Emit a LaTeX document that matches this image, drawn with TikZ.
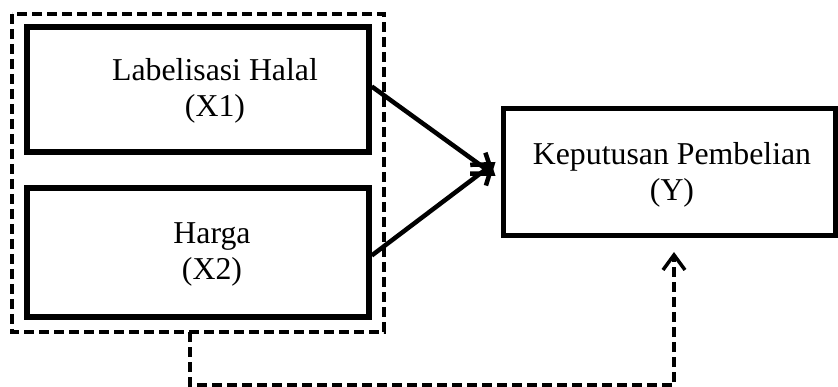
\documentclass[tikz,border=0pt]{standalone}
\usepackage{fontspec}
\setmainfont{Liberation Serif}
\usetikzlibrary{arrows.meta,positioning}
\begin{document}
\begin{tikzpicture}[x=1pt,y=-1pt,
  box/.style={draw=black,line width=5.5pt,rectangle,inner sep=0pt},
  lbl/.style={align=center,inner sep=0pt,font=\fontsize{31.8}{36}\selectfont},
  grp/.style={draw=black,line width=3.5pt,dash pattern=on 10pt off 5pt},
  solidarrow/.style={line width=4.5pt,-{Straight Barb[length=18pt,width=26pt]}},
  dasharrow/.style={line width=3.5pt,dash pattern=on 10pt off 5pt,-{Straight Barb[length=15pt,width=22pt]}}
]
\useasboundingbox (0,0) rectangle (838,387);
% outer dashed group
\draw[grp] (12,14) rectangle (384,332);
\coordinate (gbot) at (190,332);
% boxes
\node[box,minimum width=342pt,minimum height=125pt] (x1) at (198,89.5) {};
\node[box,minimum width=342pt,minimum height=129pt] (x2) at (198,252.5) {};
\node[draw=black,line width=5pt,rectangle,inner sep=0pt,minimum width=332pt,minimum height=127pt] (y) at (669,172.5) {};
% texts
\node[lbl] (tx1) at (215,91) {Labelisasi Halal\\(X1)};
\node[lbl] (tx2) at (212,254) {Harga\\(X2)};
\node[lbl] (ty) at (672,175) {Keputusan Pembelian\\(Y)};
% arrows
\draw[solidarrow] ([yshift=3pt]x1.east) -- ([xshift=-5pt,yshift=-3.5pt]y.west);
\draw[solidarrow] ([yshift=-3pt]x2.east) -- ([xshift=-5pt,yshift=10.5pt]y.west);
\coordinate (yin) at (674,252);
\draw[dasharrow] (gbot) -- (190,385) -- (674,385) -- (yin);
\end{tikzpicture}
\end{document}
